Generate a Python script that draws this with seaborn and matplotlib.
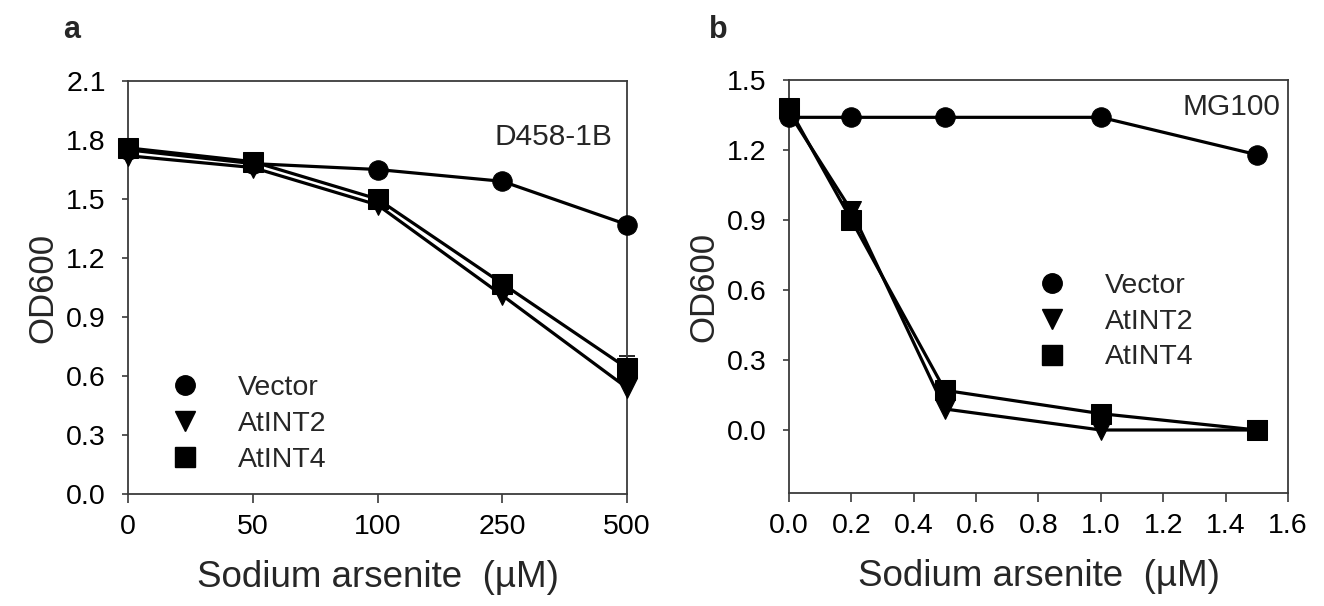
import numpy as np
import pandas as pd
import matplotlib
matplotlib.use("Agg")
import matplotlib.pyplot as plt
from matplotlib.lines import Line2D
import seaborn as sns

# ---------------- data ----------------
series_names = ["Vector", "AtINT2", "AtINT4"]
series_markers = ["o", "v", "s"]

# panel a (categorical concentrations, µM)
conc_a = ["0", "50", "100", "250", "500"]
vector_a = [1.75, 1.68, 1.65, 1.59, 1.37]
atint2_a = [1.72, 1.66, 1.47, 1.01, 0.54]
atint4_a = [1.76, 1.69, 1.50, 1.07, 0.64]
atint4_a_err = [0.0, 0.0, 0.0, 0.0, 0.06]

# panel b (numeric concentrations, µM)
conc_b = [0.0, 0.2, 0.5, 1.0, 1.5]
vector_b = [1.34, 1.34, 1.34, 1.34, 1.18]
atint2_b = [1.36, 0.94, 0.09, 0.0, 0.0]
atint4_b = [1.38, 0.90, 0.17, 0.07, 0.0]

yticks_a = [0.0, 0.3, 0.6, 0.9, 1.2, 1.5, 1.8, 2.1]
yticks_b = [0.0, 0.3, 0.6, 0.9, 1.2, 1.5]
xticks_b = [0.0, 0.2, 0.4, 0.6, 0.8, 1.0, 1.2, 1.4, 1.6]

# ---------------- style ----------------
sns.set_style("ticks")
plt.rcParams["font.family"] = ["Liberation Sans", "DejaVu Sans"]
plt.rcParams["axes.edgecolor"] = "#3a3a3a"
plt.rcParams["axes.linewidth"] = 1.3

TICK_FS = 20.5
LABEL_FS = 26.5
LEG_FS = 20.5
MS = 14
LW = 2.3

fig = plt.figure(figsize=(13.24, 6.06), dpi=100)
ax_a = fig.add_axes([128 / 1324, 1 - 494 / 606, 499 / 1324, 413 / 606])
ax_b = fig.add_axes([789 / 1324, 1 - 493 / 606, 499 / 1324, 413 / 606])

pos_a = np.arange(len(conc_a))
df_a = pd.DataFrame({"pos": np.tile(pos_a, 3),
                     "od": vector_a + atint2_a + atint4_a,
                     "series": np.repeat(series_names, len(conc_a))})
df_b = pd.DataFrame({"conc": conc_b * 3,
                     "od": vector_b + atint2_b + atint4_b,
                     "series": np.repeat(series_names, len(conc_b))})

for ax, df, xcol in [(ax_a, df_a, "pos"), (ax_b, df_b, "conc")]:
    sns.lineplot(data=df, x=xcol, y="od", hue="series", style="series",
                 markers=dict(zip(series_names, series_markers)),
                 dashes=False, palette=["black"] * 3, markersize=MS,
                 markeredgecolor="black", linewidth=LW, legend=False,
                 clip_on=False, ax=ax, zorder=3)

ax_a.errorbar(pos_a, atint4_a, yerr=atint4_a_err, fmt="none", ecolor="black",
              elinewidth=1.2, capsize=6, capthick=1.2, clip_on=False, zorder=2)

# panel a axes
ax_a.set_xlim(0, len(conc_a) - 1)
ax_a.set_ylim(0, 2.1)
ax_a.set_xticks(pos_a)
ax_a.set_xticklabels(conc_a)
ax_a.set_yticks(yticks_a)
ax_a.set_yticklabels([f"{v:.1f}" for v in yticks_a])

# panel b axes
ax_b.set_xlim(0, 1.6)
ax_b.set_ylim(-0.27, 1.5)
ax_b.set_xticks(xticks_b)
ax_b.set_xticklabels([f"{v:.1f}" for v in xticks_b])
ax_b.set_yticks(yticks_b)
ax_b.set_yticklabels([f"{v:.1f}" for v in yticks_b])

for ax in (ax_a, ax_b):
    for s in ax.spines.values():
        s.set_visible(True)
    ax.tick_params(axis="x", direction="out", length=6.5, width=1.2,
                   labelsize=TICK_FS, pad=8, colors="#3a3a3a", labelcolor="black")
    ax.tick_params(axis="y", direction="out", length=4, width=1.2,
                   labelsize=TICK_FS, pad=12, colors="#3a3a3a", labelcolor="black")
    ax.set_xlabel("Sodium arsenite  (\u00b5M)", fontsize=LABEL_FS, labelpad=14)
    ax.set_ylabel("OD600", fontsize=25, labelpad=5)

handles = [Line2D([], [], marker=m, color="black", linestyle="none",
                  markersize=MS) for m in series_markers]
ax_a.legend(handles, series_names, loc="upper left",
            bbox_to_anchor=(0.035, 0.315), frameon=False, fontsize=LEG_FS,
            handlelength=2.0, handletextpad=0.85, labelspacing=0.34,
            borderaxespad=0)
ax_b.legend(handles, series_names, loc="upper left",
            bbox_to_anchor=(0.448, 0.56), frameon=False, fontsize=LEG_FS,
            handlelength=2.0, handletextpad=0.85, labelspacing=0.34,
            borderaxespad=0)

ax_a.text(0.97, 0.865, "D458-1B", transform=ax_a.transAxes, ha="right",
          va="center", fontsize=21.5)
ax_b.text(0.985, 0.935, "MG100", transform=ax_b.transAxes, ha="right",
          va="center", fontsize=21.5)

fig.text(72 / 1324, 1 - 30 / 606, "a", fontsize=22, fontweight="bold",
         ha="center", va="center")
fig.text(718 / 1324, 1 - 30 / 606, "b", fontsize=22, fontweight="bold",
         ha="center", va="center")

fig.savefig("out.png", dpi=100)
